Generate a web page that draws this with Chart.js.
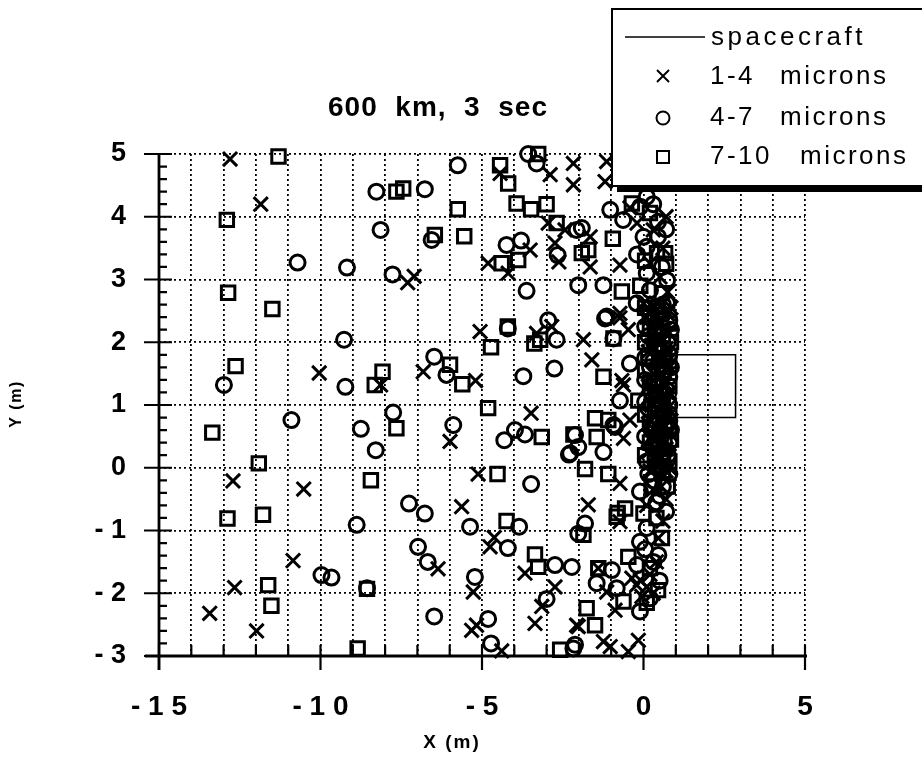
<!DOCTYPE html>
<html>
<head>
<meta charset="utf-8">
<title>600 km, 3 sec</title>
<script src="https://cdn.jsdelivr.net/npm/chart.js@4.4.0/dist/chart.umd.min.js"></script>
<style>
    html, body { margin: 0; padding: 0; background: #fff; }
    #scatter { display: block; }
</style>
</head>
<body>
<canvas id="scatter" width="922" height="758"></canvas>
<script>
// Axis ranges and tick labels
var xMin = -15, xMax = 5;
var yMin = -3, yMax = 5;
var xLabelValues = [-15, -10, -5, 0, 5];
var xLabelText = ['- 1 5', '- 1 0', '- 5', '0', '5'];
var yLabelValues = [-3, -2, -1, 0, 1, 2, 3, 4, 5];
var yLabelText = ['- 3', '- 2', '- 1', '0', '1', '2', '3', '4', '5'];

// Spacecraft outline (m)
var spacecraftX = [1.0, 2.85, 2.85, 1.0, 1.0];
var spacecraftY = [1.8, 1.8, 0.8, 0.8, 1.8];

// 1-4 microns (x, y in m)
var small = [
    [-12.8, 4.92], [-11.85, 4.2], [-7.3, 2.95], [-7.1, 3.05], [-10.04, 1.51], [-8.14, 1.32],
    [-12.71, -0.21], [-10.52, -0.34], [-10.85, -1.48], [-12.66, -1.91], [-13.43, -2.32], [-11.98, -2.6],
    [-4.44, 4.69], [-2.89, 4.67], [-2.17, 4.85], [-2.17, 4.51], [-2.95, 3.9], [-2.43, 3.79],
    [-3.51, 3.47], [-2.74, 3.58], [-4.81, 3.26], [-4.19, 3.1], [-2.62, 3.28], [-5.06, 2.17],
    [-3.31, 2.14], [-2.84, 2.25], [-6.82, 1.53], [-5.2, 1.39],
    [-5.99, 0.42], [-3.48, 0.87], [-5.12, -0.1], [-5.63, -0.62], [-4.62, -1.11], [-4.75, -1.26],
    [-6.36, -1.61], [-5.27, -1.98], [-3.67, -1.68], [-2.74, -1.9], [-3.15, -2.21], [-5.32, -2.59],
    [-5.17, -2.51], [-3.36, -2.48], [-4.39, -2.92], [-2.07, -2.51],
    [-1.14, 4.88], [-1.19, 4.56], [-1.65, 3.68], [-1.65, 3.2], [-0.73, 3.23], [-0.73, 2.46],
    [-0.47, 2.2], [-1.86, 2.04], [-1.6, 1.72], [-0.62, 1.32], [-0.73, 2.39], [-0.67, 1.39],
    [-0.42, 0.76], [-0.62, 0.47], [-0.73, -0.25], [-1.71, -0.59], [-0.73, -0.86], [-1.4, -1.6],
    [-1.14, -1.98], [-0.36, -1.76], [-0.21, -1.87], [-0.88, -2.27], [-2.02, -2.53], [-1.24, -2.77],
    [-0.47, -2.93], [-0.16, -2.75], [-1.03, -2.85],
    [-0.42, 4.14], [-0.2, 3.9], [0.7, 4.0], [0.3, 3.79], [0.6, 3.5], [0.2, 3.26], [0.51, 3.04],
    [0.75, 2.8], [0.0, 2.62], [0.3, 2.55], [0.75, 2.45], [0.5, 2.3], [0.8, 2.15], [0.3, 2.05],
    [0.7, 1.9], [0.45, 1.75], [0.8, 1.6], [0.3, 1.5], [0.65, 1.35], [0.8, 1.2], [0.4, 1.1],
    [0.75, 0.95], [0.3, 0.85], [0.6, 0.7], [0.8, 0.55], [0.35, 0.45], [0.7, 0.3], [0.5, 0.15],
    [0.8, 0.0], [0.2, -0.05], [0.6, -0.15], [0.3, -0.35], [0.7, -0.5], [0.1, -0.6], [0.6, -0.85],
    [0.46, -1.12], [0.4, -1.5], [0.2, -1.7], [-0.1, -1.79], [0.1, -1.9], [0.3, -2.0], [-0.05, -2.05],
    [0.1, 2.4], [0.55, 2.0], [0.15, 1.85], [0.55, 1.45], [0.15, 1.3], [0.55, 1.0], [0.15, 0.7],
    [0.45, 0.55], [0.15, 0.25], [0.55, -0.3], [0.85, 1.75], [0.85, 0.75], [0.85, 2.55],
    [0.4, 2.62], [0.65, 2.2], [0.25, 1.95], [0.65, 1.65], [0.35, 1.25], [0.7, 1.05], [0.25, 1.0],
    [0.5, 0.8], [0.25, 0.5], [0.65, 0.45], [0.35, 0.05], [0.7, -0.05]
];

// 4-7 microns
var medium = [
    [-8.27, 4.4], [-8.14, 3.79], [-10.71, 3.27], [-9.18, 3.19], [-7.77, 3.08], [-9.27, 2.04],
    [-12.99, 1.32], [-9.23, 1.29], [-10.9, 0.76], [-8.75, 0.62], [-7.75, 0.88], [-8.29, 0.28],
    [-7.26, -0.57], [-8.88, -0.91], [-6.98, -1.26], [-9.97, -1.71], [-9.66, -1.75], [-8.56, -1.92],
    [-5.75, 4.82], [-3.57, 5.0], [-3.31, 4.85], [-6.77, 4.44], [-2.07, 3.79], [-6.56, 3.63],
    [-4.24, 3.55], [-3.79, 3.62], [-2.66, 3.39], [-3.62, 2.82], [-2.02, 2.91], [-4.2, 2.22],
    [-2.95, 2.35], [-2.69, 2.04], [-6.48, 1.77], [-6.1, 1.48], [-3.72, 1.46], [-2.76, 1.58],
    [-5.89, 0.68], [-4.31, 0.44], [-3.98, 0.6], [-3.67, 0.53], [-2.31, 0.21], [-3.48, -0.26],
    [-6.77, -0.73], [-5.37, -0.94], [-3.85, -0.94], [-4.2, -1.28], [-6.68, -1.5], [-5.22, -1.74],
    [-2.74, -1.55], [-2.22, -1.58], [-3.0, -2.09], [-6.48, -2.37], [-4.81, -2.41], [-4.72, -2.8],
    [-2.17, -2.88], [-1.03, 4.11], [-1.91, 3.82], [-1.24, 2.91], [-1.19, 2.38], [-0.21, 2.62],
    [-0.93, 2.06], [-0.42, 1.66], [-1.14, 2.41], [-2.12, 0.52], [-2.02, 0.33], [-1.24, 0.25],
    [-0.93, 0.68], [-0.11, -0.38], [-1.81, -0.89], [-2.02, -1.05], [-0.11, -1.18], [-0.98, -1.63],
    [-1.45, -1.84], [-0.83, -1.92], [-0.11, -2.29], [-2.12, -2.82], [-0.73, 1.07], [-0.88, 0.65],
    [-2.27, 0.23],
    [-0.63, 3.95], [-0.1, 4.16], [0.1, 4.32], [0.3, 4.2], [0.45, 3.92], [0.7, 3.8], [0.0, 3.68],
    [0.45, 3.68], [0.1, 3.52], [-0.2, 3.4], [0.57, 3.2], [0.1, 3.1], [0.73, 2.99], [0.2, 2.83],
    [0.42, 2.56], [0.73, 2.62], [0.6, 2.6], [0.2, 2.45], [0.8, 2.35], [0.45, 2.2], [0.15, 2.1],
    [0.75, 2.0], [0.35, 1.9], [0.8, 1.8], [0.55, 1.65], [0.2, 1.6], [0.8, 1.45], [0.45, 1.4],
    [0.7, 1.25], [0.25, 1.2], [0.55, 1.05], [0.8, 1.0], [0.15, 0.95], [0.45, 0.8], [0.8, 0.75],
    [0.25, 0.6], [0.55, 0.5], [0.8, 0.4], [0.3, 0.3], [0.75, 0.2], [0.45, 0.05], [0.8, -0.1],
    [0.3, -0.2], [0.6, -0.3], [0.4, -0.55], [0.7, -0.7], [0.1, -0.96], [0.05, -1.3], [0.46, -1.39],
    [0.31, -1.5], [-0.2, -1.55], [0.5, -1.8], [0.2, -2.08],
    [0.05, 2.25], [0.6, 2.45], [0.65, 1.9], [0.05, 1.75], [0.65, 1.55], [0.05, 1.4], [0.4, 1.15],
    [0.05, 1.05], [0.65, 0.65], [0.05, 0.5], [0.5, 0.35], [0.1, 0.1], [0.6, 0.1], [0.85, 0.6],
    [0.85, 1.6],
    [0.3, 2.35], [0.6, 1.75], [0.3, 1.7], [0.3, 1.35], [0.6, 0.9], [0.3, 0.7], [0.65, 0.25],
    [0.15, -0.1], [0.5, -0.45], [0.85, 2.2]
];

// 7-10 microns
var large = [
    [-11.3, 4.96], [-12.9, 3.95], [-7.65, 4.4], [-7.44, 4.45], [-12.86, 2.79], [-11.49, 2.53],
    [-12.63, 1.62], [-8.08, 1.53], [-8.32, 1.32], [-13.35, 0.56], [-7.65, 0.63], [-11.91, 0.07],
    [-8.44, -0.2], [-12.88, -0.81], [-11.78, -0.75], [-11.62, -1.87], [-11.52, -2.2], [-8.56, -1.93],
    [-8.85, -2.88], [-4.44, 4.82], [-4.19, 4.53], [-3.26, 5.0], [-5.75, 4.12], [-3.93, 4.21],
    [-3.48, 4.12], [-3.0, 4.2], [-2.69, 3.9], [-6.46, 3.71], [-5.55, 3.69], [-4.39, 3.26],
    [-3.88, 3.31], [-4.72, 1.92], [-4.2, 2.25], [-3.38, 1.98], [-3.2, 2.04], [-5.99, 1.64],
    [-5.61, 1.33], [-4.81, 0.95], [-3.15, 0.49], [-2.17, 0.53], [-4.52, -0.1], [-4.24, -0.85],
    [-3.36, -1.38], [-3.26, -1.58], [-2.58, -2.9], [-1.91, 3.42], [-1.71, 3.47], [-0.95, 3.65],
    [-0.67, 2.81], [-0.93, 2.06], [-1.24, 1.45], [-1.5, 0.79], [-1.45, 0.49], [-1.81, -0.02],
    [-1.09, -0.1], [-0.57, -0.65], [-0.83, -0.78], [-0.8, -0.72], [0.0, -0.73], [-0.47, -1.42],
    [-1.4, -1.6], [-1.86, -1.07], [-1.76, -2.24], [-0.62, -2.13], [-1.5, -2.51], [-0.16, 1.07],
    [-1.09, 0.76],
    [-0.36, 4.21], [0.2, 4.06], [0.42, 3.42], [0.67, 3.42], [0.05, 3.3], [0.7, 3.25], [-0.1, 2.9],
    [0.57, 2.78], [0.2, 2.4], [0.45, 2.5], [0.8, 2.3], [0.2, 2.25], [0.6, 2.1], [0.35, 1.95],
    [0.8, 1.7], [0.15, 1.75], [0.6, 1.55], [0.35, 1.3], [0.8, 1.3], [0.2, 1.35], [0.6, 1.15],
    [0.8, 0.85], [0.35, 0.95], [0.65, 0.85], [0.2, 0.7], [0.8, 0.65], [0.5, 0.6], [0.2, 0.4],
    [0.65, 0.4], [0.8, 0.1], [0.35, 0.15], [0.6, -0.05], [0.75, -0.3], [0.4, -0.8], [0.57, -1.12],
    [0.2, -1.6], [0.45, -1.95], [0.1, -2.15],
    [0.05, 2.55], [0.55, 2.35], [0.05, 2.0], [0.5, 1.85], [0.05, 1.55], [0.5, 1.2], [0.05, 0.85],
    [0.45, 0.3], [0.05, 0.2], [0.85, 0.45], [0.85, 2.0],
    [0.35, 2.15], [0.45, 1.6], [0.45, 1.0], [0.35, 0.55], [0.55, 0.2], [0.25, -0.3]
];

var FONT = "'Liberation Sans', Arial, Helvetica, sans-serif";

var toPoints = function (pairs) {
    return pairs.map(function (p) {
        return { x: p[0], y: p[1] };
    });
};

var markerSet = function (label, pairs, style, radius) {
    return {
        label: label,
        data: toPoints(pairs),
        pointStyle: style,
        pointRadius: radius,
        pointBorderWidth: 3,
        pointBorderColor: '#000',
        pointBackgroundColor: 'rgba(0,0,0,0)',
        showLine: false,
        clip: false
    };
};

// Hand-drawn axes, ticks, title and legend box
var paperPlugin = {
    id: 'paper',
    afterDatasetsDraw: function (chart) {
        var ctx = chart.ctx;
        var a = chart.chartArea;
        var xs = chart.scales.x, ys = chart.scales.y;
        var v, p;
        ctx.save();
        ctx.strokeStyle = '#000';
        ctx.lineWidth = 2.8;
        ctx.beginPath();
        ctx.moveTo(a.left, a.top);
        ctx.lineTo(a.left, a.bottom + 14);
        ctx.moveTo(a.left - 14, a.bottom);
        ctx.lineTo(a.right + 2, a.bottom);
        ctx.stroke();

        ctx.lineWidth = 2.2;
        ctx.beginPath();
        for (v = yMin; v <= yMax; v++) {
            p = ys.getPixelForValue(v);
            ctx.moveTo(a.left - 15, p);
            ctx.lineTo(a.left + 13, p);
        }
        for (v = 1; v < (yMax - yMin) * 5; v++) {
            if (v % 5 === 0) {
                continue;
            }
            p = ys.getPixelForValue(yMin + v / 5);
            ctx.moveTo(a.left, p);
            ctx.lineTo(a.left + 8, p);
        }
        for (v = xMin; v <= xMax; v++) {
            p = xs.getPixelForValue(v);
            ctx.moveTo(p, a.bottom - 11);
            ctx.lineTo(p, v % 5 === 0 ? a.bottom + 14 : a.bottom);
        }
        ctx.stroke();
        ctx.restore();
    },
    afterDraw: function (chart) {
        var ctx = chart.ctx;
        ctx.save();
        ctx.fillStyle = '#000';

        // Title
        ctx.font = 'bold 28px ' + FONT;
        ctx.textAlign = 'center';
        ctx.textBaseline = 'alphabetic';
        ctx.letterSpacing = '1px';
        ctx.fillText('600  km,  3  sec', 438, 116);

        // Axis titles
        ctx.font = 'bold 19px ' + FONT;
        ctx.letterSpacing = '2px';
        ctx.textBaseline = 'middle';
        ctx.fillText('X (m)', 452, 743);
        ctx.save();
        ctx.translate(17, 404);
        ctx.rotate(-Math.PI / 2);
        ctx.font = 'bold 16px ' + FONT;
        ctx.letterSpacing = '1.5px';
        ctx.fillText('Y (m)', 0, 0);
        ctx.restore();

        // Legend box with drop shadow
        ctx.fillRect(617, 186, 320, 6);
        ctx.fillStyle = '#fff';
        ctx.fillRect(612, 9, 320, 177);
        ctx.strokeStyle = '#000';
        ctx.lineWidth = 2;
        ctx.strokeRect(612, 9, 320, 177);

        ctx.fillStyle = '#000';
        ctx.font = '26px ' + FONT;
        ctx.letterSpacing = '2.5px';
        ctx.textAlign = 'left';
        ctx.textBaseline = 'middle';

        ctx.lineWidth = 1.5;
        ctx.beginPath();
        ctx.moveTo(625, 37);
        ctx.lineTo(705, 37);
        ctx.stroke();
        ctx.letterSpacing = '3.5px';
        ctx.fillText('spacecraft', 711, 38);
        ctx.letterSpacing = '2.5px';

        ctx.lineWidth = 2;
        ctx.beginPath();
        ctx.moveTo(657, 70);
        ctx.lineTo(669, 82);
        ctx.moveTo(669, 70);
        ctx.lineTo(657, 82);
        ctx.stroke();
        ctx.fillText('1-4', 710, 77);
        ctx.fillText('microns', 780, 77);

        ctx.beginPath();
        ctx.arc(663, 118, 6.5, 0, Math.PI * 2);
        ctx.stroke();
        ctx.fillText('4-7', 710, 118);
        ctx.fillText('microns', 780, 118);

        ctx.strokeRect(657, 151, 12, 12);
        ctx.fillText('7-10', 710, 157);
        ctx.fillText('microns', 800, 157);
        ctx.restore();
    }
};

var ctx = document.getElementById('scatter').getContext('2d');
var chart = new Chart(ctx, {
    type: 'scatter',
    data: {
        datasets: [
            {
                label: 'spacecraft',
                data: spacecraftX.map(function (x, i) { return { x: x, y: spacecraftY[i] }; }),
                showLine: true,
                borderColor: '#000',
                borderWidth: 1.5,
                pointRadius: 0,
                fill: false,
                clip: false
            },
            markerSet('1-4 microns', small, 'crossRot', 10),
            markerSet('4-7 microns', medium, 'circle', 7.5),
            markerSet('7-10 microns', large, 'rect', 9.5)
        ]
    },
    options: {
        responsive: false,
        animation: false,
        events: [],
        layout: { padding: { left: 0, top: 154, right: 117, bottom: 0 } },
        plugins: {
            legend: { display: false },
            title: { display: false },
            tooltip: { enabled: false }
        },
        scales: {
            x: {
                type: 'linear',
                min: xMin,
                max: xMax,
                afterFit: function (scale) { scale.height = 102; },
                border: { display: false, dash: [2, 3] },
                grid: { color: '#000', lineWidth: 1.8, drawTicks: false },
                ticks: {
                    stepSize: 1,
                    autoSkip: false,
                    maxRotation: 0,
                    padding: 34,
                    color: '#000',
                    font: { family: FONT, size: 28, weight: 'bold' },
                    callback: function (value) {
                        var i = xLabelValues.indexOf(Math.round(value));
                        return i >= 0 ? xLabelText[i] : '';
                    }
                }
            },
            y: {
                type: 'linear',
                min: yMin,
                max: yMax,
                afterFit: function (scale) { scale.width = 159; },
                border: { display: false, dash: [2, 3] },
                grid: { color: '#000', lineWidth: 1.8, drawTicks: false },
                ticks: {
                    stepSize: 1,
                    padding: 33,
                    color: '#000',
                    font: { family: FONT, size: 27, weight: 'bold' },
                    callback: function (value) {
                        var i = yLabelValues.indexOf(Math.round(value));
                        return i >= 0 ? yLabelText[i] : '';
                    }
                }
            }
        }
    },
    plugins: [paperPlugin]
});
</script>
</body>
</html>
